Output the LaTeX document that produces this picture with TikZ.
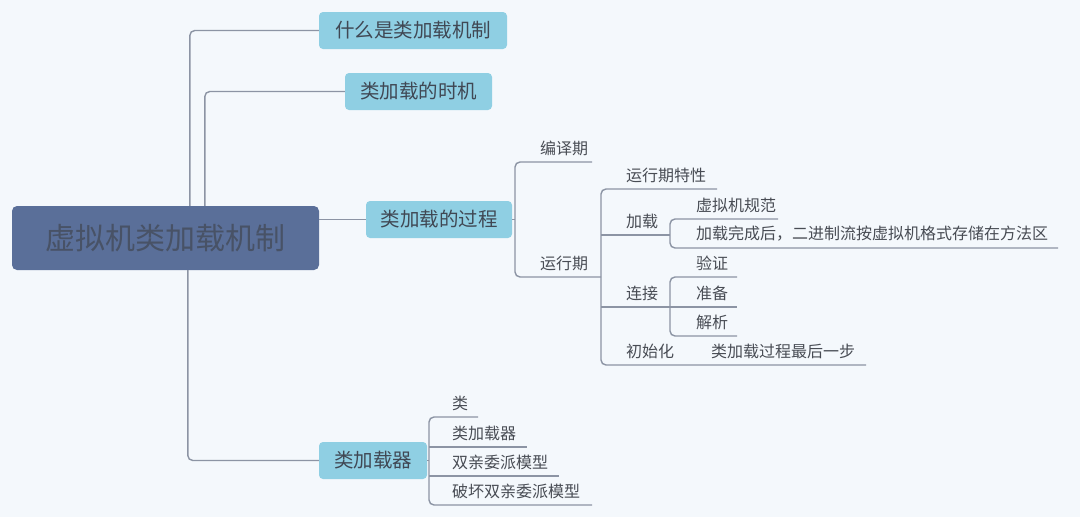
\documentclass[tikz,border=0pt]{standalone}
\usepackage{fontspec}
\setmainfont{Noto Sans CJK SC}
\newfontfamily\cjk{Noto Sans CJK SC}
\definecolor{bg}{RGB}{244,248,252}
\definecolor{rootfill}{RGB}{90,111,153}
\definecolor{roottext}{RGB}{72,82,102}
\definecolor{subfill}{RGB}{143,207,227}
\definecolor{subtext}{RGB}{64,72,84}
\definecolor{linec}{RGB}{140,148,164}
\definecolor{leaftext}{RGB}{72,76,84}
\begin{document}
\begin{tikzpicture}[x=1pt,y=-1pt,
  conn/.style={draw=linec,line width=1.4pt,rounded corners=5pt},
  rootbox/.style={fill=rootfill,rounded corners=5pt,text=roottext,font=\cjk\fontsize{30}{34}\selectfont,inner sep=0pt},
  subbox/.style={fill=subfill,rounded corners=4pt,text=subtext,font=\cjk\fontsize{19.5}{22}\selectfont,inner sep=0pt},
  leaf/.style={anchor=west,text=leaftext,font=\cjk\fontsize{16}{18}\selectfont,inner sep=0pt}]
\fill[bg] (0,0) rectangle (1080,517);
\useasboundingbox (0,0) rectangle (1080,517);

% main nodes
\node[rootbox,minimum width=307pt,minimum height=64pt] (root) at (165.5,238) {虚拟机类加载机制};
\node[subbox,minimum width=188pt,minimum height=37pt] (n1) at (413,30.5) {什么是类加载机制};
\node[subbox,minimum width=147pt,minimum height=37pt] (n2) at (418.5,91.5) {类加载的时机};
\node[subbox,minimum width=146pt,minimum height=37pt] (n3) at (439,219.5) {类加载的过程};
\node[subbox,minimum width=108pt,minimum height=37pt] (n4) at (373,460.5) {类加载器};

% root connectors
\draw[conn] ([xshift=178pt]root.north west) |- (n1.west);
\draw[conn] ([xshift=193pt]root.north west) |- (n2.west);
\draw[conn] ([xshift=176pt]root.south west) |- (n4.west);
\draw[conn] (root.east |- n3.west) -- (n3.west);

% --- process subtree ---
\coordinate (b1s) at (515,162); \coordinate (b1e) at (592,162);
\coordinate (b2s) at (515,277); \coordinate (b2e) at (601,277);
\node[leaf] (t-bianyi) at (540,148) {编译期};
\node[leaf] (t-yunxing) at (540,263) {运行期};
\draw[conn] (n3.east) -- (n3.east -| b1s);
\draw[conn] (b1e) -- (b1s) -- (b2s) -- (b2e);

% runtime bracket
\coordinate (c1s) at (601,189); \coordinate (c1e) at (717,189);
\coordinate (c2s) at (601,235); \coordinate (c2e) at (670,235);
\coordinate (c3s) at (601,307); \coordinate (c3e) at (670,307);
\coordinate (c4s) at (601,365); \coordinate (c4e) at (866,365);
\node[leaf] (t-tx) at (626,175) {运行期特性};
\node[leaf] (t-jz) at (626,221) {加载};
\node[leaf] (t-lj) at (626,293) {连接};
\node[leaf] (t-csh) at (626,351) {初始化};
\node[leaf] (t-zh) at (711,351) {类加载过程最后一步};
\draw[conn] (c1e) -- (c1s) -- (c4s) -- (c4e);
\draw[conn] (c2s) -- (c2e);
\draw[conn] (c3s) -- (c3e);

% load bracket
\coordinate (d1s) at (670,219); \coordinate (d1e) at (778,219);
\coordinate (d2s) at (670,248); \coordinate (d2e) at (1058,248);
\node[leaf] (t-gf) at (696,205) {虚拟机规范};
\node[leaf] (t-wc) at (696,234) {加载完成后，二进制流按虚拟机格式存储在方法区};
\draw[conn] (d1e) -- (d1s) -- (d2s) -- (d2e);

% link bracket
\coordinate (e1s) at (670,277); \coordinate (e1e) at (737,277);
\coordinate (e2s) at (670,307); \coordinate (e2e) at (737,307);
\coordinate (e3s) at (670,336); \coordinate (e3e) at (737,336);
\node[leaf] (t-yz) at (696,263) {验证};
\node[leaf] (t-zb) at (696,293) {准备};
\node[leaf] (t-jx) at (696,322) {解析};
\draw[conn] (e1e) -- (e1s) -- (e3s) -- (e3e);
\draw[conn] (e2s) -- (e2e);

% class loader subtree
\coordinate (f1s) at (429,417); \coordinate (f1e) at (478,417);
\coordinate (f2s) at (429,447); \coordinate (f2e) at (527,447);
\coordinate (f3s) at (429,476); \coordinate (f3e) at (559,476);
\coordinate (f4s) at (429,505); \coordinate (f4e) at (592,505);
\node[leaf] (t-l) at (452,403) {类};
\node[leaf] (t-ljzq) at (452,433) {类加载器};
\node[leaf] (t-sq) at (452,462) {双亲委派模型};
\node[leaf] (t-ph) at (452,491) {破坏双亲委派模型};
\draw[conn] (n4.east) -- (n4.east -| f1s);
\draw[conn] (f1e) -- (f1s) -- (f4s) -- (f4e);
\draw[conn] (f2s) -- (f2e);
\draw[conn] (f3s) -- (f3e);
\end{tikzpicture}
\end{document}
